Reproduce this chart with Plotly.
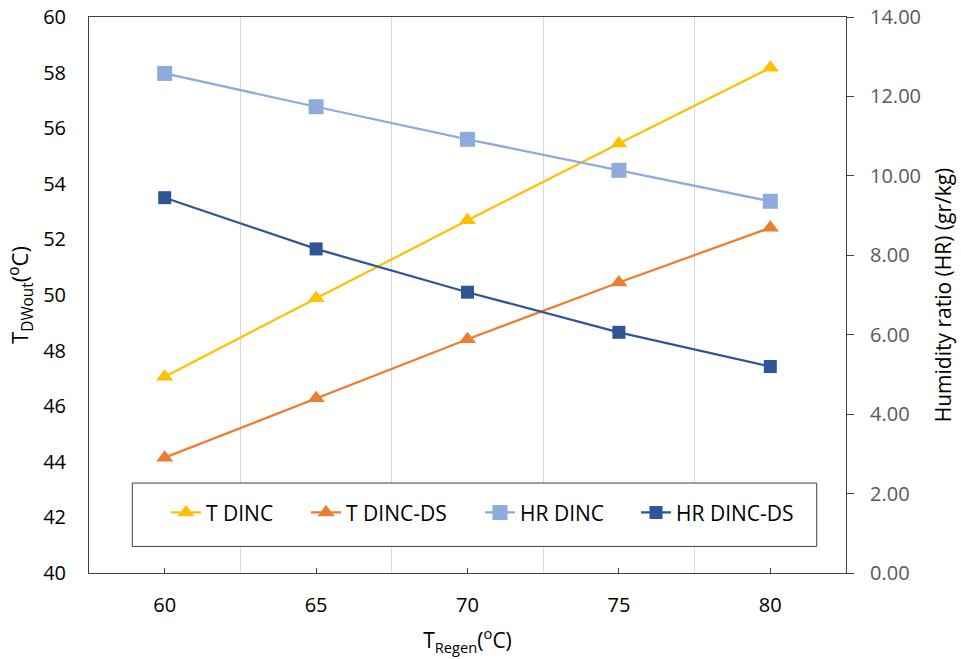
import plotly.graph_objects as go

# Regeneration temperature (°C)
t_regen = [60, 65, 70, 75, 80]

# Dehumidifier outlet temperature (°C), left axis
t_dinc = [47.06, 49.88, 52.69, 55.45, 58.17]
t_dinc_ds = [44.15, 46.29, 48.41, 50.45, 52.42]

# Humidity ratio (gr/kg), right axis
hr_dinc = [12.58, 11.74, 10.92, 10.14, 9.36]
hr_dinc_ds = [9.45, 8.16, 7.07, 6.06, 5.20]

series_names = ["T DINC", "T DINC-DS", "HR DINC", "HR DINC-DS"]
y_ticks_left = list(range(40, 61, 2))
y_ticks_right = list(range(0, 15, 2))

FONT = "Open Sans"
AX = "#404040"

fig = go.Figure()

specs = [
    (t_dinc, series_names[0], "#FFC000", "triangle-up", 15, "y", "legend"),
    (t_dinc_ds, series_names[1], "#ED7D31", "triangle-up", 15, "y", "legend2"),
    (hr_dinc, series_names[2], "#8FAADC", "square", 15, "y2", "legend3"),
    (hr_dinc_ds, series_names[3], "#2F5597", "square", 13, "y2", "legend4"),
]
for vals, name, color, sym, size, yax, leg in specs:
    fig.add_trace(go.Scatter(
        x=t_regen, y=vals, name=name, mode="lines+markers",
        line=dict(color=color, width=2.25),
        marker=dict(symbol=sym, size=size, color=color),
        yaxis=yax, legend=leg,
    ))

# gridlines sit midway between the regeneration temperatures
mids = [(a + b) / 2 for a, b in zip(t_regen[:-1], t_regen[1:])]
step = t_regen[1] - t_regen[0]

fig.update_layout(
    width=961, height=659,
    margin=dict(l=89, r=115, t=17, b=86, autoexpand=False),
    paper_bgcolor="white", plot_bgcolor="white",
    font=dict(family=FONT, size=20, color="#000000"),
    showlegend=True,
    xaxis=dict(
        range=[t_regen[0] - step / 2, t_regen[-1] + step / 2],
        tickvals=t_regen, ticktext=[str(v) for v in t_regen],
        ticks="inside", ticklen=5, tickcolor=AX,
        showline=True, linecolor=AX, linewidth=1, mirror=True,
        showgrid=False, zeroline=False, automargin=False,
        ticklabelstandoff=14,
        tickfont=dict(size=20, color="#000000"),
        minor=dict(tickvals=mids, showgrid=True, gridcolor="#D9D9D9",
                   gridwidth=1, ticks=""),
        title=dict(text="T<sub>Regen</sub>(<sup>o</sup>C)", standoff=16,
                   font=dict(size=21)),
    ),
    yaxis=dict(
        range=[40, 60], tickvals=y_ticks_left,
        showline=True, linecolor=AX, linewidth=1,
        ticks="", showgrid=False, zeroline=False, automargin=False,
        ticklabelstandoff=18,
        tickfont=dict(size=20, color="#000000"),
        title=dict(text="T<sub>DWout</sub>(<sup>o</sup>C)", standoff=8,
                   font=dict(size=22)),
    ),
    yaxis2=dict(
        range=[0, 14], tickvals=y_ticks_right, tickformat=".2f",
        overlaying="y", side="right",
        showline=True, linecolor=AX, linewidth=1,
        ticks="outside", ticklen=7, tickcolor=AX,
        showgrid=False, zeroline=False, automargin=False,
        ticklabelstandoff=12,
        tickfont=dict(size=20, color="#595959"),
        title=dict(text="Humidity ratio (HR) (gr/kg)", standoff=16,
                   font=dict(size=21)),
    ),
)

# one legend per series, laid out in a row inside a framed box
leg_x = [0.1017, 0.2867, 0.5165, 0.7226]
for i, lx in enumerate(leg_x):
    key = "legend" if i == 0 else f"legend{i + 1}"
    fig.update_layout({key: dict(
        x=lx, y=0.1084, xanchor="left", yanchor="middle",
        orientation="h", bgcolor="rgba(0,0,0,0)", borderwidth=0,
        font=dict(family=FONT, size=21, color="#000000"),
    )})

fig.add_shape(type="rect", xref="paper", yref="paper",
              x0=0.0572, x1=0.9613, y0=0.0478, y1=0.1618,
              line=dict(color=AX, width=1), fillcolor="white", layer="above")

fig.write_html("out.html")
